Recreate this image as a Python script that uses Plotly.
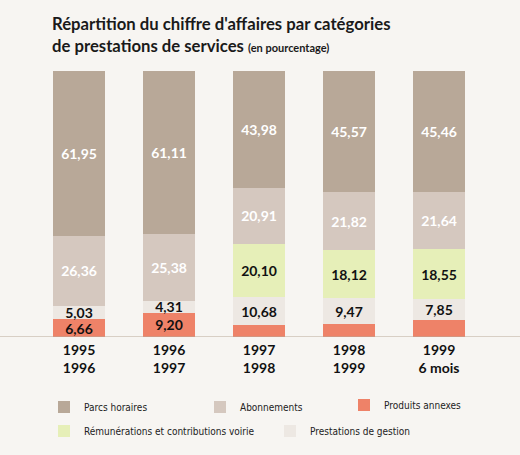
import plotly.graph_objects as go

periods = ["1995<br>1996", "1996<br>1997", "1997<br>1998", "1998<br>1999", "1999<br>6 mois"]
parcs_horaires = [61.95, 61.11, 43.98, 45.57, 45.46]
abonnements = [26.36, 25.38, 20.91, 21.82, 21.64]
remunerations = [0, 0, 20.10, 18.12, 18.55]
prestations_gestion = [5.03, 4.31, 10.68, 9.47, 7.85]
produits_annexes = [6.66, 9.20, 4.33, 5.02, 6.50]
produits_labelled = [True, True, False, False, False]

def fmt(v):
    return f"{v:.2f}".replace(".", ",")

series = [
    ("Produits annexes", produits_annexes, "#EE8268", "#111111",
     [fmt(v) if s else "" for v, s in zip(produits_annexes, produits_labelled)], "legend3"),
    ("Prestations de gestion", prestations_gestion, "#EDE8E3", "#111111",
     [fmt(v) for v in prestations_gestion], "legend5"),
    ("Rémunérations et contributions voirie", remunerations, "#E6EFB8", "#111111",
     [fmt(v) if v else "" for v in remunerations], "legend4"),
    ("Abonnements", abonnements, "#D5C8BF", "#FFFFFF",
     [fmt(v) for v in abonnements], "legend2"),
    ("Parcs horaires", parcs_horaires, "#B8A898", "#FFFFFF",
     [fmt(v) for v in parcs_horaires], "legend"),
]

fig = go.Figure()
for name, vals, col, tcol, txt, lg in series:
    fig.add_trace(go.Bar(
        x=list(range(len(periods))), y=vals, name=name,
        marker=dict(color=col, line=dict(width=0)),
        text=txt, textposition="inside", insidetextanchor="middle",
        constraintext="none", textangle=0,
        textfont=dict(family="Lato", size=14, color=tcol, weight="bold"),
        width=0.567, legend=lg, hoverinfo="skip", showlegend=True,
    ))

legfont = dict(family="DejaVu Sans Condensed, Liberation Sans Narrow", size=10, color="#222222")
H = 455
def leg(x, y):
    return dict(x=x / 520, y=1 - y / H, xref="container", yref="container",
                xanchor="left", yanchor="middle", visible=True,
                bgcolor="rgba(0,0,0,0)", borderwidth=0, font=legfont, itemwidth=30)

fig.update_layout(
    width=520, height=455,
    barmode="stack",
    showlegend=True,
    paper_bgcolor="#F7F5F2", plot_bgcolor="#F7F5F2",
    margin=dict(l=34, r=36, t=71, b=118, autoexpand=False),
    title=dict(
        text="Répartition du chiffre d'affaires par catégories<br>de prestations de services "
             "<span style='font-size:11px'>(en pourcentage)</span>",
        x=52 / 520, xanchor="left", xref="container",
        y=1 - 30 / H, yanchor="top", yref="container",
        font=dict(family="Lato", size=16.7, color="#1a1a1a", weight="bold"),
    ),
    xaxis=dict(
        tickmode="array", tickvals=list(range(len(periods))), ticktext=periods,
        range=[-0.5, 4.5], showgrid=False, zeroline=False, showline=False, ticks="",
        tickfont=dict(family="Lato", size=14, color="#111111", weight="bold"),
        ticklabelstandoff=3,
        fixedrange=True,
    ),
    yaxis=dict(range=[0, 100], visible=False, fixedrange=True),
    legend=leg(44, 407),
    legend2=leg(200, 407),
    legend3=leg(344, 405),
    legend4=leg(44, 431),
    legend5=leg(270, 431),
    shapes=[dict(type="line", xref="paper", yref="y", x0=-34 / 450, x1=1 + 36 / 450, y0=0, y1=0,
                 line=dict(color="#B8A898", width=1))],
)

fig.write_html("out.html", config={"displayModeBar": False},
               post_script="document.body.style.margin='0';")
